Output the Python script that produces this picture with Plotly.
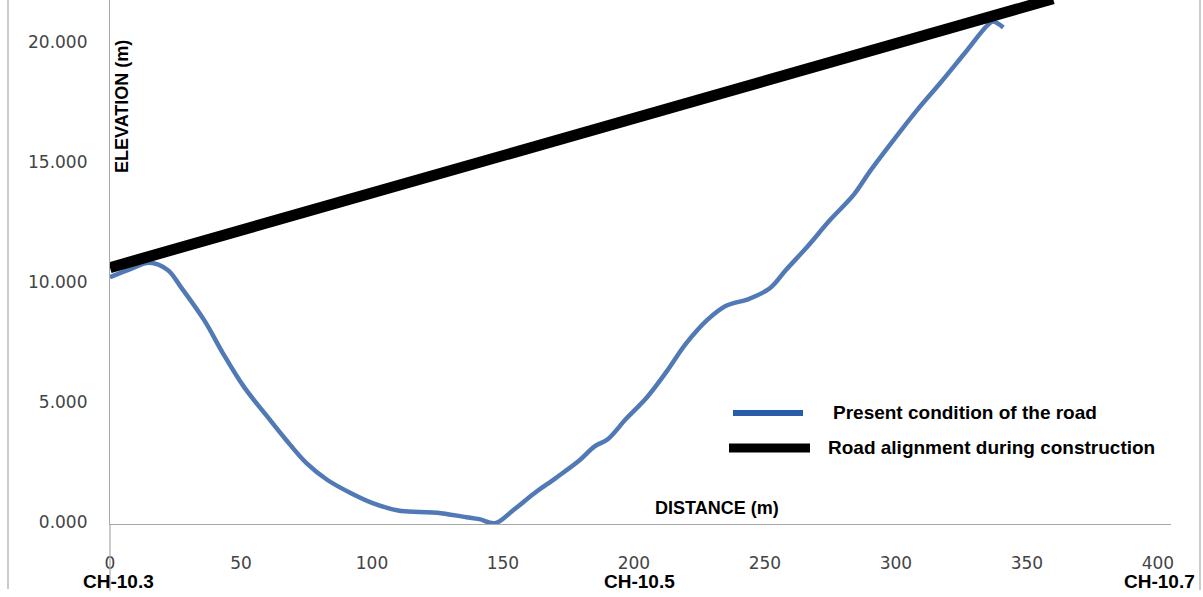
import plotly.graph_objects as go

# ---- data ----
present_x = [0, 8, 15, 22, 27, 36, 43, 51, 60, 67, 75, 83, 92, 100, 110, 118, 125,
             136, 141, 147, 154, 162, 170, 179, 185, 190, 197, 205, 212, 220, 228,
             235, 244, 252, 258, 266, 275, 284, 290, 299, 308, 317, 326, 335, 337, 341]
present_y = [10.2, 10.55, 10.8, 10.5, 9.8, 8.4, 7.05, 5.65, 4.4, 3.45, 2.45, 1.75, 1.2,
             0.8, 0.48, 0.42, 0.39, 0.2, 0.12, -0.05, 0.5, 1.2, 1.82, 2.55, 3.15, 3.45,
             4.3, 5.2, 6.2, 7.45, 8.42, 9.0, 9.3, 9.75, 10.5, 11.45, 12.6, 13.65, 14.6,
             15.9, 17.15, 18.3, 19.5, 20.7, 20.85, 20.6]

road_x = [0, 360]
road_y = [10.6, 21.8]

x_ticks = [0, 50, 100, 150, 200, 250, 300, 350, 400]
y_ticks = [0, 5, 10, 15, 20]
chainage_x = [0, 200, 400]
chainage_labels = ["CH-10.3", "CH-10.5", "CH-10.7"]
series_names = ["Present condition of the road", "Road alignment during construction"]

# ---- layout geometry (pixels) ----
W, H = 1203, 597
L, R, T, B = 110, 32, 0, 73
PW, PH = W - L - R, H - T - B


def px(p):
    return (p - L) / PW


def py(p):
    return (PH + T - p) / PH


BLUE = "#5079b5"
GRAY = "#a8a8a8"

fig = go.Figure()
fig.add_trace(go.Scatter(x=present_x, y=present_y, mode="lines", name=series_names[0],
                         line=dict(color=BLUE, width=4.5, shape="spline", smoothing=1.0),
                         showlegend=False))
fig.add_trace(go.Scatter(x=road_x, y=road_y, mode="lines", name=series_names[1],
                         line=dict(color="black", width=11), showlegend=False))

tick_font = dict(family="DejaVu Sans", size=17, color="#444444")
bold = dict(family="Liberation Sans", size=18, color="black")
legend_font = dict(family="Liberation Sans", size=19, color="black")

fig.update_layout(
    width=W, height=H,
    margin=dict(l=L, r=R, t=T, b=B),
    paper_bgcolor="white", plot_bgcolor="white",
    xaxis=dict(range=[0, 405], tickvals=x_ticks, ticks="", showgrid=False, zeroline=False,
               showline=True, linecolor=GRAY, linewidth=1.2, tickfont=tick_font,
               ticklabelstandoff=23),
    yaxis=dict(range=[-2 / 24, 21.75], tickvals=y_ticks, tickformat=".3f", ticks="",
               showgrid=False, zeroline=False, showline=True, linecolor=GRAY,
               linewidth=1.2, tickfont=tick_font, ticklabelstandoff=18),
)

shapes = [
    # outer frame lines
    dict(type="line", xref="paper", yref="paper", x0=px(8), x1=px(8), y0=py(0), y1=py(589),
         line=dict(color=GRAY, width=1.2)),
    dict(type="line", xref="paper", yref="paper", x0=px(1200), x1=px(1200), y0=py(0), y1=py(590),
         line=dict(color=GRAY, width=1.2)),
    # y-axis extension below the x-axis
    dict(type="line", xref="paper", yref="paper", x0=0, x1=0, y0=0, y1=py(591),
         line=dict(color=GRAY, width=1.2)),
    # legend swatches
    dict(type="line", xref="paper", yref="paper", x0=px(733), x1=px(803), y0=py(413), y1=py(413),
         line=dict(color="#2a5caa", width=6)),
    dict(type="line", xref="paper", yref="paper", x0=px(729), x1=px(810), y0=py(448), y1=py(448),
         line=dict(color="black", width=9)),
]
fig.update_layout(shapes=shapes)

ann = [
    dict(text="<b>ELEVATION (m)</b>", xref="paper", yref="paper", x=px(122), y=py(107),
         textangle=-90, showarrow=False, font=bold, xanchor="center", yanchor="middle"),
    dict(text="<b>DISTANCE (m)</b>", xref="paper", yref="paper", x=px(717), y=py(508),
         showarrow=False, font=bold, xanchor="center", yanchor="middle"),
    dict(text="<b>" + series_names[0] + "</b>", xref="paper", yref="paper", x=px(831), y=py(412),
         showarrow=False, font=legend_font, xanchor="left", yanchor="middle"),
    dict(text="<b>" + series_names[1] + "</b>", xref="paper", yref="paper", x=px(826), y=py(447),
         showarrow=False, font=legend_font, xanchor="left", yanchor="middle"),
]
shifts = [8, 6, 2]
for cx, lab, s in zip(chainage_x, chainage_labels, shifts):
    ann.append(dict(text="<b>" + lab + "</b>", x=cx, xref="x", yref="paper", y=py(581),
                    xshift=s, showarrow=False,
                    font=dict(family="Liberation Sans", size=19, color="black"),
                    xanchor="center", yanchor="middle"))
fig.update_layout(annotations=ann)

fig.write_html("out.html", config={"displayModeBar": False},
               post_script="document.body.style.margin='0px';")
